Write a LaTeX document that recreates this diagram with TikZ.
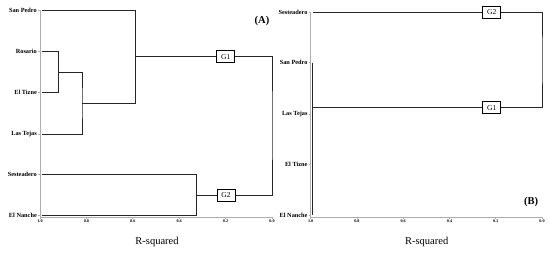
\documentclass[tikz,border=0pt]{standalone}
\usepackage{fontspec}
\setmainfont{Liberation Serif}
\usetikzlibrary{positioning,calc}

\begin{document}
\begin{tikzpicture}[x=1pt, y=-1pt,
    leaf/.style={anchor=east, inner sep=0.5pt, font=\bfseries\fontsize{6.3}{7}\selectfont},
    grp/.style={draw, fill=white, line width=0.5pt, minimum width=18pt, minimum height=12pt, inner sep=1pt, font=\fontsize{7.5}{8}\selectfont},
    tree/.style={line width=0.75pt, black!85},
    axis/.style={line width=0.7pt, gray!65},
    ticklab/.style={anchor=north, inner sep=0.5pt, font=\bfseries\fontsize{4.2}{5}\selectfont},
    rsq/.style={font=\fontsize{10.5}{12}\selectfont},
    panel/.style={font=\bfseries\fontsize{10.5}{12}\selectfont}]
  \useasboundingbox (0,0) rectangle (550,255);

  % panel A
  \draw[axis] (40,10.3) -- (40,217) -- (272,217);
  \foreach \t [count=\i from 0] in {1.0,0.8,0.6,0.4,0.2,0.0} {
    \draw[axis] (40+46.4*\i,217) -- ++(0,2);
    \node[ticklab] at (40+46.4*\i,219.3) {\t};
  }
  \foreach \name/\y in {San Pedro/10.3, Rosario/51.7, El Tizne/92.7, Las Tejas/134, Sesteadero/174.7, El Nanche/215} {
    \draw[axis] (37.8,\y) -- (40,\y);
    \node[leaf] at (37.5,\y) {\name};
  }
  \coordinate (sp) at (41.7,10.3);
  \coordinate (ro) at (41.7,51.7);
  \coordinate (tz) at (41.7,92.7);
  \coordinate (lt) at (41.7,134);
  \coordinate (ss) at (41.7,174.7);
  \coordinate (en) at (41.7,215);
  \coordinate (m1) at (58.7,72.2);
  \coordinate (m2) at (82,103.1);
  \coordinate (m3) at (135.7,56.7);
  \coordinate (m4) at (196.7,194.9);
  \coordinate (rA) at (272,125);
  \draw[tree] (ro) -| (m1) |- (tz);
  \draw[tree] (m1) -| (m2) |- (lt);
  \draw[tree] (sp) -| (m3) |- (m2);
  \draw[tree] (ss) -| (m4) |- (en);
  \draw[tree] (m3) -| (rA) |- (m4);
  \node[grp] (g1A) at (225.7,56.7) {G1};
  \node[grp] (g2A) at (226,194.9) {G2};
  \node[rsq] at (157,242) {R-squared};
  \node[panel] at (262,21) {(A)};

  % panel B
  \draw[axis] (310.7,12.3) -- (310.7,217) -- (542,217);
  \foreach \t [count=\i from 0] in {1.0,0.8,0.6,0.4,0.2,0.0} {
    \draw[axis] (310.7+46.26*\i,217) -- ++(0,2);
    \node[ticklab] at (310.7+46.26*\i,219.3) {\t};
  }
  \foreach \name/\y in {Sesteadero/12.3, San Pedro/62.7, Las Tejas/114, El Tizne/164.7, El Nanche/215} {
    \draw[axis] (308.5,\y) -- (310.7,\y);
    \node[leaf] at (308.2,\y) {\name};
  }
  \coordinate (bss) at (312.5,12.3);
  \coordinate (bsp) at (312.5,62.7);
  \coordinate (ben) at (312.5,215);
  \coordinate (n1) at (312.5,107.7);
  \coordinate (rB) at (542,60);
  \draw[tree] (bsp) -- (ben);
  \draw[tree] (n1) -| (rB) |- (bss);
  \node[grp] (g2B) at (491.7,12.3) {G2};
  \node[grp] (g1B) at (491.7,107.7) {G1};
  \node[rsq] at (426.7,242) {R-squared};
  \node[panel] at (531,202) {(B)};
\end{tikzpicture}
\end{document}
